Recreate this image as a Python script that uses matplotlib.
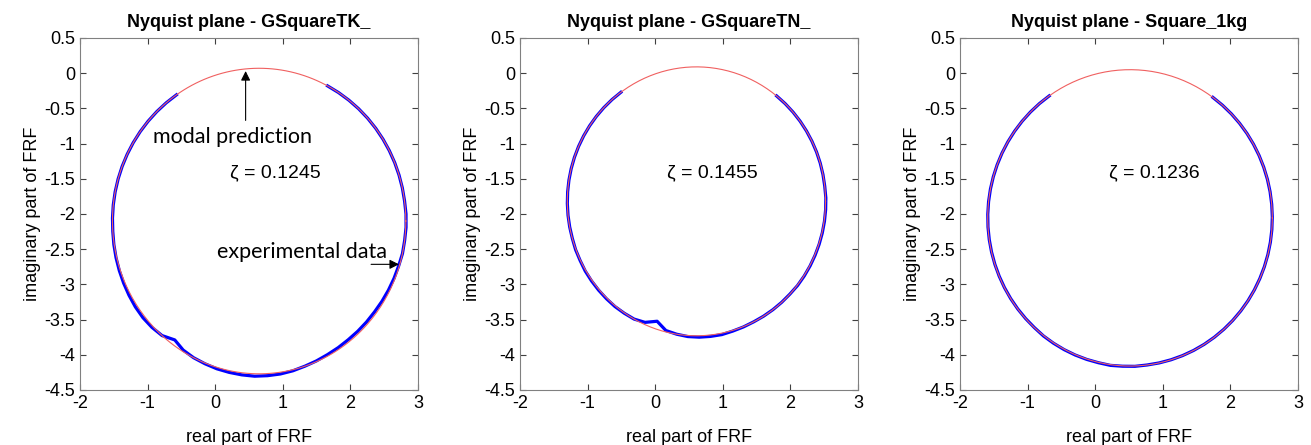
import matplotlib
matplotlib.use('Agg')
import matplotlib.pyplot as plt
import numpy as np

plt.rcParams['font.family'] = ['Liberation Sans', 'DejaVu Sans']
plt.rcParams['axes.unicode_minus'] = False

titles = ['Nyquist plane - GSquareTK_', 'Nyquist plane - GSquareTN_', 'Nyquist plane - Square_1kg']
zetas = [0.1245, 0.1455, 0.1236]
zeta_x = [0.22, 0.17, 0.21]

# modal circle fits: centre x, centre y, radius
circ_cx = [0.65, 0.61, 0.515]
circ_cy = [-2.10, -1.82, -2.055]
circ_r = [2.17, 1.91, 2.105]

# experimental arc: first / last angle (deg) around the circle centre,
# and radial offset of the measured points from the fitted circle
arc_start = [124.3, 125.8, 124.6]
arc_end = [422.2, 411.6, 414.4]

dev1 = [0.00, 0.00, 0.00, 0.00, 0.00, 0.00, 0.00, 0.00, 0.00, 0.00,
        0.00, 0.00, 0.00, 0.005, 0.01, 0.015, 0.02, 0.025, 0.03, 0.03,
        0.02, 0.00, -0.07, -0.02, 0.00, 0.01, 0.02, 0.025, 0.03, 0.035,
        0.03, 0.025, 0.015, 0.00, -0.01, -0.02, -0.025, -0.03, -0.03, -0.03,
        -0.03, -0.025, -0.02, -0.015, -0.01, 0.00, 0.00, 0.005, 0.005, 0.00,
        0.00, 0.00, 0.00, 0.00, 0.00, 0.00, 0.00, 0.00, 0.00, 0.00, 0.00]
dev2 = [0.00, 0.00, 0.00, 0.00, 0.00, 0.00, 0.00, 0.00, 0.00, 0.00,
        0.00, 0.00, 0.00, 0.00, 0.00, 0.005, 0.005, 0.01, 0.01, 0.01,
        0.01, 0.01, 0.005, 0.00, -0.03, -0.11, -0.02, 0.00, 0.015, 0.02,
        0.02, 0.02, 0.01, 0.005, 0.00, 0.00, 0.00, 0.00, 0.00, 0.005,
        0.005, 0.005, 0.005, 0.005, 0.005, 0.005, 0.005, 0.005, 0.00, 0.00,
        0.00, 0.00, 0.00, 0.00, 0.00, 0.00, 0.00, 0.00]
dev3 = [0.00, 0.00, 0.00, 0.00, 0.00, 0.00, 0.00, 0.00, 0.00, 0.00,
        0.00, 0.00, 0.00, 0.00, 0.00, 0.00, 0.00, 0.00, 0.00, 0.00,
        0.00, 0.00, 0.005, 0.005, 0.005, 0.005, 0.005, 0.005, 0.01, 0.005,
        0.005, 0.00, 0.00, 0.00, 0.00, 0.00, 0.00, 0.00, 0.00, 0.00,
        0.00, 0.00, 0.00, 0.00, 0.00, 0.00, 0.00, 0.00, 0.00, 0.00,
        0.00, 0.00, 0.00, 0.00, 0.00, 0.00, 0.00, 0.00, 0.00, 0.00]
devs = [dev1, dev2, dev3]

fig = plt.figure(figsize=(13.11, 4.45), dpi=100)
lefts = [80 / 1311, 520 / 1311, 960 / 1311]
w = 338 / 1311
b = 55 / 445
h = 352 / 445
note_font = ['Lato', 'DejaVu Sans']

for k in range(3):
    ax = fig.add_axes([lefts[k], b, w, h])
    d = np.array(devs[k])
    ang = np.deg2rad(np.linspace(arc_start[k], arc_end[k], len(d)))
    rr = circ_r[k] + d
    ax.plot(circ_cx[k] + rr * np.cos(ang), circ_cy[k] + rr * np.sin(ang),
            color='#0000ff', lw=2.3, zorder=2, solid_joinstyle='round')
    t = np.linspace(0, 2 * np.pi, 400)
    ax.plot(circ_cx[k] + circ_r[k] * np.cos(t), circ_cy[k] + circ_r[k] * np.sin(t),
            color='#f06060', lw=0.8, zorder=3)
    ax.set_xlim(-2, 3)
    ax.set_ylim(-4.5, 0.5)
    ax.set_xticks([-2, -1, 0, 1, 2, 3])
    ax.set_yticks(np.arange(-4.5, 0.51, 0.5))
    ax.set_yticklabels(['-4.5', '-4', '-3.5', '-3', '-2.5', '-2', '-1.5', '-1', '-0.5', '0', '0.5'])
    ax.tick_params(direction='in', top=True, right=True, labelsize=13, length=4,
                   color='#404040', width=0.8)
    for s in ax.spines.values():
        s.set_color('#808080')
        s.set_linewidth(0.8)
    ax.set_title(titles[k], fontsize=13, fontweight='bold', pad=8)
    ax.set_xlabel('real part of FRF', fontsize=13, labelpad=12)
    ax.set_ylabel('imaginary part of FRF', fontsize=13, labelpad=2)
    ax.text(zeta_x[k], -1.42, '\u03b6 = ' + str(zetas[k]), fontsize=14, va='center', ha='left')
    if k == 0:
        ax.annotate('', xy=(0.45, 0.07), xytext=(0.45, -0.71),
                    arrowprops=dict(arrowstyle='-|>', color='black', lw=0.8, mutation_scale=14))
        ax.text(-0.92, -0.90, 'modal prediction', fontsize=15.5, family=note_font,
                va='center', ha='left')
        ax.annotate('', xy=(2.76, -2.715), xytext=(2.265, -2.715),
                    arrowprops=dict(arrowstyle='-|>', color='black', lw=0.8, mutation_scale=14))
        ax.text(0.03, -2.54, 'experimental data', fontsize=15.5, family=note_font,
                va='center', ha='left')

plt.savefig('out.png', dpi=100)
